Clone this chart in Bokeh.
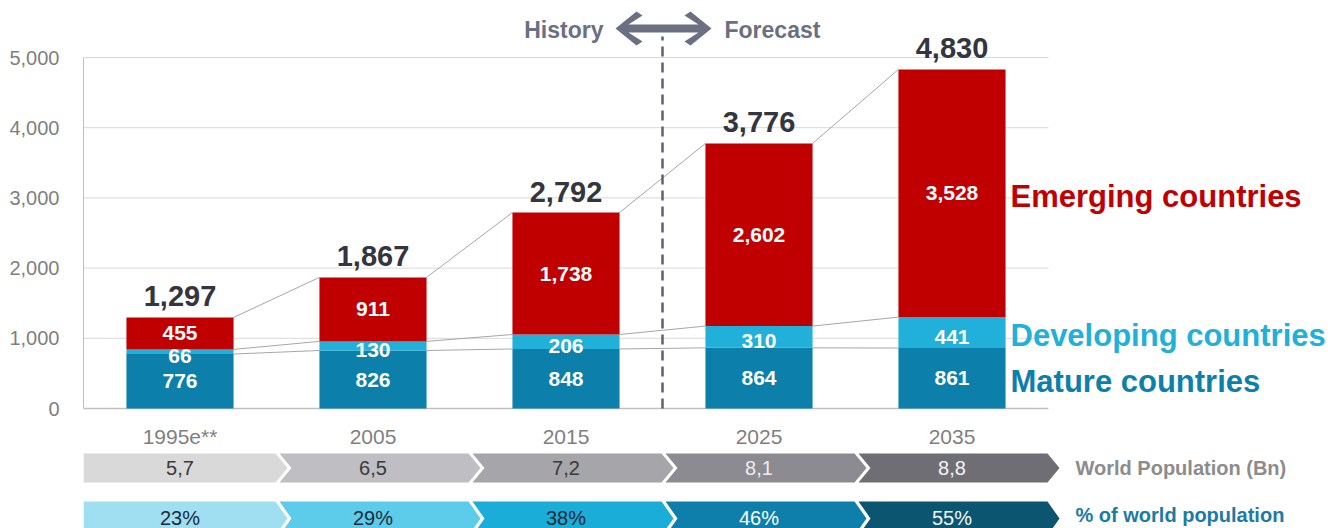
from bokeh.plotting import figure
from bokeh.models import Range1d, FixedTicker, NumeralTickFormatter
from bokeh.core.properties import value
from bokeh.embed import file_html
from bokeh.resources import INLINE

# ---------------- data ----------------
years = ["1995e**", "2005", "2015", "2025", "2035"]
mature = [776, 826, 848, 864, 861]
developing = [66, 130, 206, 310, 441]
emerging = [455, 911, 1738, 2602, 3528]
world_pop = ["5,7", "6,5", "7,2", "8,1", "8,8"]
share = ["23%", "29%", "38%", "46%", "55%"]
y_ticks = [0, 1000, 2000, 3000, 4000, 5000]
series_names = ["Mature countries", "Developing countries", "Emerging countries"]

# ---------------- styles ----------------
C_MAT = "#0C80AB"
C_DEV = "#20B0DA"
C_EMG = "#C00000"
pop_fill = ["#D9D9D9", "#BEBEC3", "#A5A5AA", "#8B8B91", "#6E6E74"]
pop_text = ["#3A3A3A", "#3A3A3A", "#3A3A3A", "#EDEDED", "#F5F5F5"]
shr_fill = ["#A0DFF1", "#5DCBEA", "#1AADD8", "#0E7FAA", "#0B5570"]
shr_text = ["#1B2B3A", "#1B2B3A", "#1B2B3A", "#FFFFFF", "#F5F5F5"]
FONT = value("Liberation Sans")

# pixel layout of the frame (page coordinates)
PX_LEFT, PX_PER_CAT = 83, 193.0
PY_ZERO, PY_PER_UNIT = 408, 351.0 / 5000

def X(px):
    return -0.5 + (px - PX_LEFT) / PX_PER_CAT

def Y(py):
    return (PY_ZERO - py) / PY_PER_UNIT

W, H = 1342, 528
p = figure(width=W, height=H,
           x_range=Range1d(X(PX_LEFT), X(W)), y_range=Range1d(Y(H), Y(0)),
           output_backend="svg", toolbar_location=None, x_axis_location=None,
           min_border_left=PX_LEFT, min_border_right=0, min_border_top=0, min_border_bottom=0)
p.outline_line_color = None
p.xgrid.visible = False
p.ygrid.visible = False
p.background_fill_color = "white"
p.border_fill_color = "white"

ax = p.yaxis[0]
ax.ticker = FixedTicker(ticks=y_ticks)
ax.formatter = NumeralTickFormatter(format="0,0")
ax.bounds = (y_ticks[0], y_ticks[-1])
ax.major_tick_line_color = None
ax.minor_tick_line_color = None
ax.axis_line_color = "#BFBFBF"
ax.major_label_text_font = "Liberation Sans"
ax.major_label_text_font_size = "20px"
ax.major_label_text_color = "#7F7F7F"
ax.major_label_standoff = 18

n = len(years)
xs = list(range(n))
x_lo, x_hi = -0.5, n - 0.5

# gridlines
p.segment(x0=[x_lo] * (len(y_ticks) - 1), x1=[x_hi] * (len(y_ticks) - 1),
          y0=y_ticks[1:], y1=y_ticks[1:], line_color="#D9D9D9", line_width=1)
p.segment(x0=[x_lo], x1=[x_hi], y0=[0], y1=[0], line_color="#BFBFBF", line_width=1.5)

# stacks
md = [m + d for m, d in zip(mature, developing)]
tot = [a + e for a, e in zip(md, emerging)]
bw = 0.555

# connector lines
for lvl in (mature, md, tot):
    p.segment(x0=[i + bw / 2 for i in xs[:-1]], x1=[i + 1 - bw / 2 for i in xs[:-1]],
              y0=lvl[:-1], y1=lvl[1:], line_color="#A6A6A6", line_width=1)

p.vbar(x=xs, bottom=0, top=mature, width=bw, fill_color=C_MAT, line_color=None)
p.vbar(x=xs, bottom=mature, top=md, width=bw, fill_color=C_DEV, line_color=None)
p.vbar(x=xs, bottom=md, top=tot, width=bw, fill_color=C_EMG, line_color=None)

fmt = lambda v: f"{v:,}"
p.text(x=xs, y=[m / 2 for m in mature], text=[fmt(v) for v in mature],
       text_font=FONT, text_font_style="bold", text_font_size="21px", text_color="white",
       text_align="center", text_baseline="middle")
p.text(x=xs, y=[m + d / 2 for m, d in zip(mature, developing)], text=[fmt(v) for v in developing],
       text_font=FONT, text_font_style="bold", text_font_size="21px", text_color="white",
       text_align="center", text_baseline="middle", y_offset=4)
p.text(x=xs, y=[a + e / 2 for a, e in zip(md, emerging)], text=[fmt(v) for v in emerging],
       text_font=FONT, text_font_style="bold", text_font_size="21px", text_color="white",
       text_align="center", text_baseline="middle")
p.text(x=xs, y=tot, text=[fmt(v) for v in tot],
       text_font=FONT, text_font_style="bold", text_font_size="29px", text_color="#333640",
       text_align="center", text_baseline="middle", y_offset=-21)

# category labels
p.text(x=xs, y=[Y(436)] * n, text=years, text_font=FONT, text_font_size="21px",
       text_color="#7F7F7F", text_align="center", text_baseline="middle")

# series labels on the right, next to the last bar
last = n - 1
lab_x = X(1010)
p.text(x=[lab_x] * 3,
       y=[mature[last] / 2, mature[last] + developing[last] / 2, md[last] + emerging[last] / 2],
       text=series_names, text_color=[C_MAT, C_DEV, C_EMG],
       text_font=FONT, text_font_style="bold", text_font_size="31px",
       text_align="left", text_baseline="middle", y_offset=3)

# chevron rows
tip = 12 / PX_PER_CAT
gap = 3 / PX_PER_CAT

def chevrons(py_top, py_bot):
    yt, yb, ym = Y(py_top), Y(py_bot), Y((py_top + py_bot) / 2)
    pxs, pys = [], []
    for i in xs:
        l = i - 0.5
        r = i + 0.5 - 1 / PX_PER_CAT
        if i == 0:
            px_l = [l, l]
            py_l = [yb, yt]
        else:
            px_l = [l + gap, l + gap + tip, l + gap]
            py_l = [yb, ym, yt]
        pxs.append(px_l + [r, r + tip, r])
        pys.append(py_l + [yt, ym, yb])
    return pxs, pys, ym

cx, cy, ym1 = chevrons(453, 482)
p.patches(xs=cx, ys=cy, fill_color=pop_fill, line_color=None)
p.text(x=xs, y=[ym1] * n, text=world_pop, text_color=pop_text, text_font=FONT,
       text_font_size="20px", text_align="center", text_baseline="middle")
cx2, cy2, _ = chevrons(501, 535)
p.patches(xs=cx2, ys=cy2, fill_color=shr_fill, line_color=None)
p.text(x=xs, y=[Y(517)] * n, text=share, text_color=shr_text, text_font=FONT,
       text_font_size="20px", text_align="center", text_baseline="middle")

p.text(x=[X(1075)], y=[ym1], text=["World Population (Bn)"], text_color="#8C8C8C",
       text_font=FONT, text_font_style="bold", text_font_size="20px",
       text_align="left", text_baseline="middle")
p.text(x=[X(1075)], y=[Y(514)], text=["% of world population"], text_color="#1B7BA3",
       text_font=FONT, text_font_style="bold", text_font_size="20px",
       text_align="left", text_baseline="middle")

# history / forecast divider
ARROW_C = "#6B6F82"
div_x = (xs[2] + xs[3]) / 2
p.segment(x0=[div_x], x1=[div_x], y0=[0], y1=[Y(36)], line_color="#5E6172",
          line_width=2.5, line_dash="10 6")
apx = [615, 636, 642, 628, 698, 684, 690, 711, 690, 684, 698, 628, 642, 636]
apy = [28, 11, 15, 24, 24, 15, 11, 28, 45, 41, 32, 32, 41, 45]
p.patch(x=[X(v) for v in apx], y=[Y(v) for v in apy], fill_color=ARROW_C, line_color=None)
p.text(x=[X(603)], y=[Y(29)], text=["History"], text_color=ARROW_C, text_font=FONT,
       text_font_style="bold", text_font_size="23px", text_align="right", text_baseline="middle")
p.text(x=[X(724)], y=[Y(29)], text=["Forecast"], text_color=ARROW_C, text_font=FONT,
       text_font_style="bold", text_font_size="23px", text_align="left", text_baseline="middle")

open("out.html", "w").write(file_html(p, INLINE))
